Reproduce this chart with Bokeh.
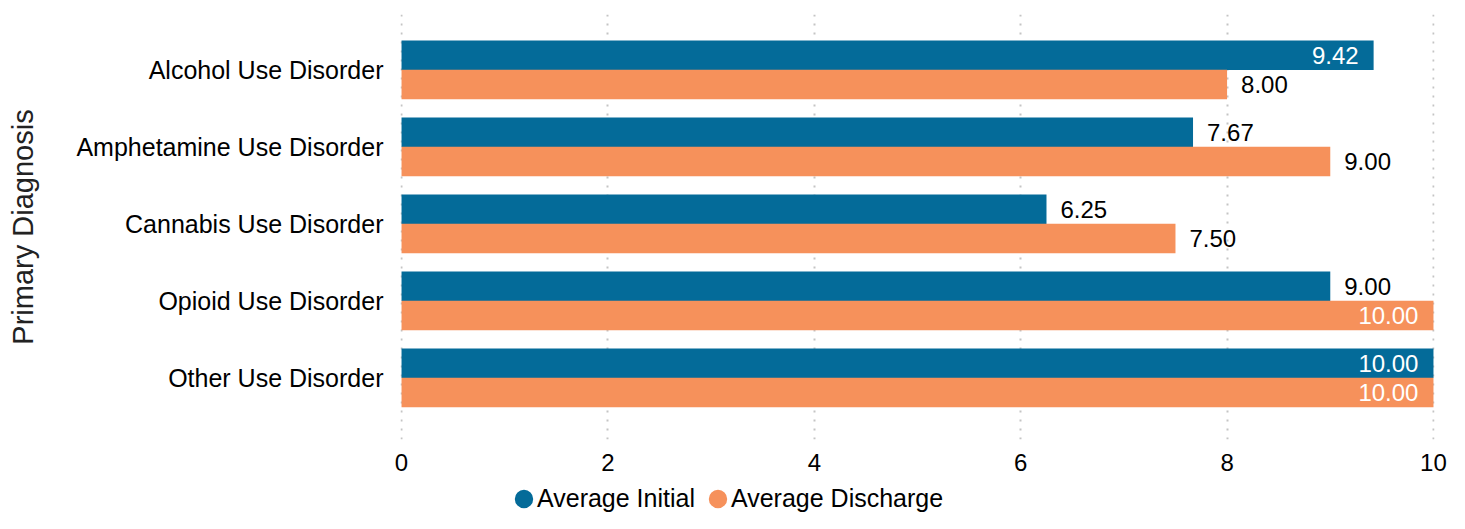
from bokeh.plotting import figure
from bokeh.models import (ColumnDataSource, Range1d, FixedTicker, Legend, LegendItem)
from bokeh.layouts import column
from bokeh.core.properties import value
from bokeh.embed import file_html
from bokeh.resources import INLINE

# ---- data ----
categories = ["Alcohol Use Disorder", "Amphetamine Use Disorder", "Cannabis Use Disorder",
              "Opioid Use Disorder", "Other Use Disorder"]
avg_initial = [9.42, 7.67, 6.25, 9.00, 10.00]
avg_discharge = [8.00, 9.00, 7.50, 10.00, 10.00]
series_names = ["Average Initial", "Average Discharge"]
x_ticks = [0, 2, 4, 6, 8, 10]

BLUE = "#046b99"
ORANGE = "#f6915b"
FONT = "Liberation Sans"
INSIDE_THRESHOLD = 9.3
NAN = float("nan")

n = len(categories)
ypos = [n - 1 - i for i in range(n)]  # first category on top
off = 0.19
bar_h = 0.383

src_i = ColumnDataSource(dict(y=[v + off for v in ypos], x=avg_initial))
src_d = ColumnDataSource(dict(y=[v - off for v in ypos], x=avg_discharge))

p = figure(width=1449, height=481, output_backend="svg", toolbar_location=None,
           x_range=Range1d(-0.01, 10.01), y_range=Range1d(-0.80, 4.72),
           min_border_left=400, min_border_right=15, min_border_top=14, min_border_bottom=42)
p.outline_line_color = None
p.background_fill_color = "white"
p.border_fill_color = "white"

p.hbar(y="y", right="x", left=0, height=bar_h, source=src_i, fill_color=BLUE, line_color=None)
p.hbar(y="y", right="x", left=0, height=bar_h, source=src_d, fill_color=ORANGE, line_color=None)

# value labels
lx, ly, lt, lc, la, lo = [], [], [], [], [], []
for vals, src in ((avg_initial, src_i), (avg_discharge, src_d)):
    for v, y in zip(vals, src.data["y"]):
        inside = v >= INSIDE_THRESHOLD
        lx.append(v); ly.append(y); lt.append(f"{v:.2f}")
        lc.append("white" if inside else "black")
        la.append("right" if inside else "left")
        lo.append(-15 if inside else 14)
lab_src = ColumnDataSource(dict(x=lx, y=ly, text=lt, color=lc, align=la, xo=lo))
p.text(x="x", y="y", text="text", source=lab_src, text_color="color", text_align="align",
       x_offset="xo", text_baseline="middle", text_font=value(FONT), text_font_size="24px")

# axes
p.xaxis.ticker = FixedTicker(ticks=x_ticks)
p.xaxis.axis_line_color = None
p.xaxis.major_tick_line_color = None
p.xaxis.minor_tick_line_color = None
p.xaxis.major_tick_out = 0
p.xaxis.major_label_standoff = 14
p.xaxis.major_label_text_font = FONT
p.xaxis.major_label_text_font_size = "24px"
p.xaxis.major_label_text_color = "black"

p.yaxis.ticker = FixedTicker(ticks=ypos)
p.yaxis.major_label_overrides = {y: c for y, c in zip(ypos, categories)}
p.yaxis.axis_line_color = None
p.yaxis.major_tick_line_color = None
p.yaxis.minor_tick_line_color = None
p.yaxis.major_tick_out = 0
p.yaxis.major_label_standoff = 17
p.yaxis.major_label_text_font = FONT
p.yaxis.major_label_text_font_size = "25px"
p.yaxis.major_label_text_color = "black"
p.yaxis.axis_label = "Primary Diagnosis"
p.yaxis.axis_label_text_font = FONT
p.yaxis.axis_label_text_font_size = "29px"
p.yaxis.axis_label_text_font_style = "normal"
p.yaxis.axis_label_text_color = "#222222"
p.yaxis.axis_label_standoff = 34

# grid
p.ygrid.grid_line_color = None
p.xgrid.grid_line_color = "#c4c4c4"
p.xgrid.grid_line_width = 2
p.xgrid.grid_line_dash = "2 7"

# legend strip below the chart (proxy renderers have no visible position)
lf = figure(width=1449, height=32, output_backend="svg", toolbar_location=None,
            x_range=Range1d(0, 1), y_range=Range1d(0, 1),
            min_border_left=0, min_border_right=0, min_border_top=0, min_border_bottom=0)
lf.axis.visible = False
lf.grid.visible = False
lf.outline_line_color = None
r1 = lf.ellipse(x=[NAN], y=[NAN], width=20, height=20, width_units="screen",
                height_units="screen", fill_color=BLUE, line_color=None)
r2 = lf.ellipse(x=[NAN], y=[NAN], width=20, height=20, width_units="screen",
                height_units="screen", fill_color=ORANGE, line_color=None)
legend = Legend(items=[LegendItem(label=series_names[0], renderers=[r1]),
                       LegendItem(label=series_names[1], renderers=[r2])],
                orientation="horizontal", location=(112, 0),
                glyph_width=23, glyph_height=23, label_standoff=2, spacing=11,
                padding=0, margin=0, border_line_color=None, background_fill_alpha=0,
                label_text_font=FONT, label_text_font_size="25px", label_text_color="black")
lf.add_layout(legend, "center")

layout = column(p, lf, spacing=0)
open("out.html", "w").write(file_html(layout, INLINE))
